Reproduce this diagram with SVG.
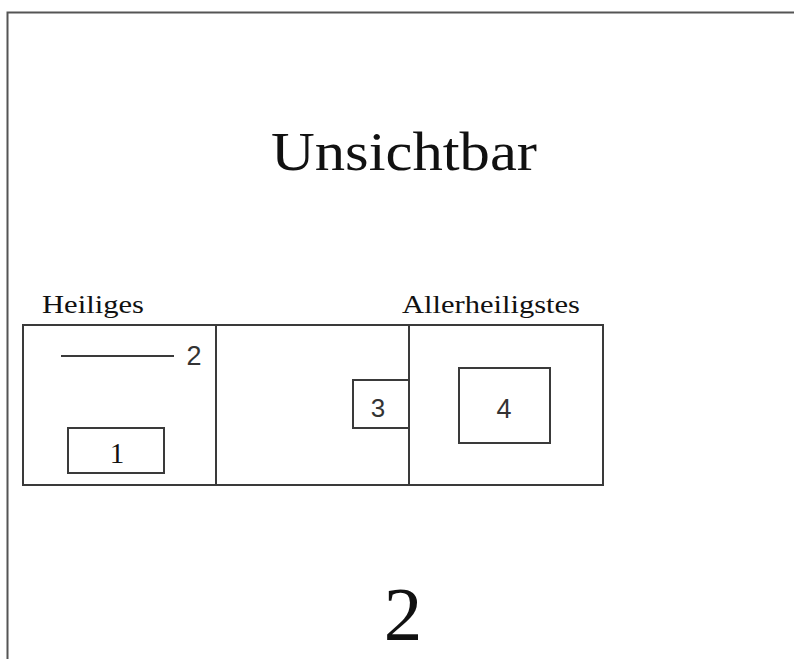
<svg xmlns="http://www.w3.org/2000/svg" width="794" height="659" viewBox="0 0 794 659">
<style>
.ln{fill:none;stroke:#3a3a3a;stroke-width:2}
.serif{font-family:"Liberation Serif","Times New Roman",serif;fill:#111}
.sans{font-family:"Liberation Sans",Arial,sans-serif;fill:#333}
</style>
<rect width="794" height="659" fill="#fff"/>
<g id="frame">
<path d="M7.5 659 V12.5 H794" fill="none" stroke="#555" stroke-width="2"/>
</g>
<g id="title"><text class="serif" x="404" y="170" font-size="55" text-anchor="middle" textLength="266" lengthAdjust="spacingAndGlyphs">Unsichtbar</text></g>
<g id="heiliges-label"><text class="serif" x="42" y="313" font-size="26" textLength="102" lengthAdjust="spacingAndGlyphs">Heiliges</text></g>
<g id="allerheiligstes-label"><text class="serif" x="402" y="313" font-size="26" textLength="178" lengthAdjust="spacingAndGlyphs">Allerheiligstes</text></g>
<g id="main-box">
<rect class="ln" x="23" y="325" width="580" height="160"/>
<line class="ln" x1="216" y1="325" x2="216" y2="485"/>
<line class="ln" x1="409" y1="325" x2="409" y2="485"/>
</g>
<g id="item-2">
<line class="ln" x1="61" y1="356" x2="174" y2="356"/>
<text class="sans" x="194" y="365" font-size="27" text-anchor="middle">2</text>
</g>
<g id="item-1">
<rect class="ln" x="68" y="428" width="96" height="45"/>
<text class="serif" x="117" y="463" font-size="29" text-anchor="middle" fill="#333">1</text>
</g>
<g id="item-3">
<path class="ln" d="M409 380 H353 V428 H409"/>
<text class="sans" x="378" y="417" font-size="26" text-anchor="middle">3</text>
</g>
<g id="item-4">
<rect class="ln" x="459" y="368" width="91" height="75"/>
<text class="sans" x="504" y="418" font-size="27" text-anchor="middle">4</text>
</g>
<g id="page-number"><text class="serif" x="403" y="640" font-size="77" text-anchor="middle">2</text></g>
</svg>
